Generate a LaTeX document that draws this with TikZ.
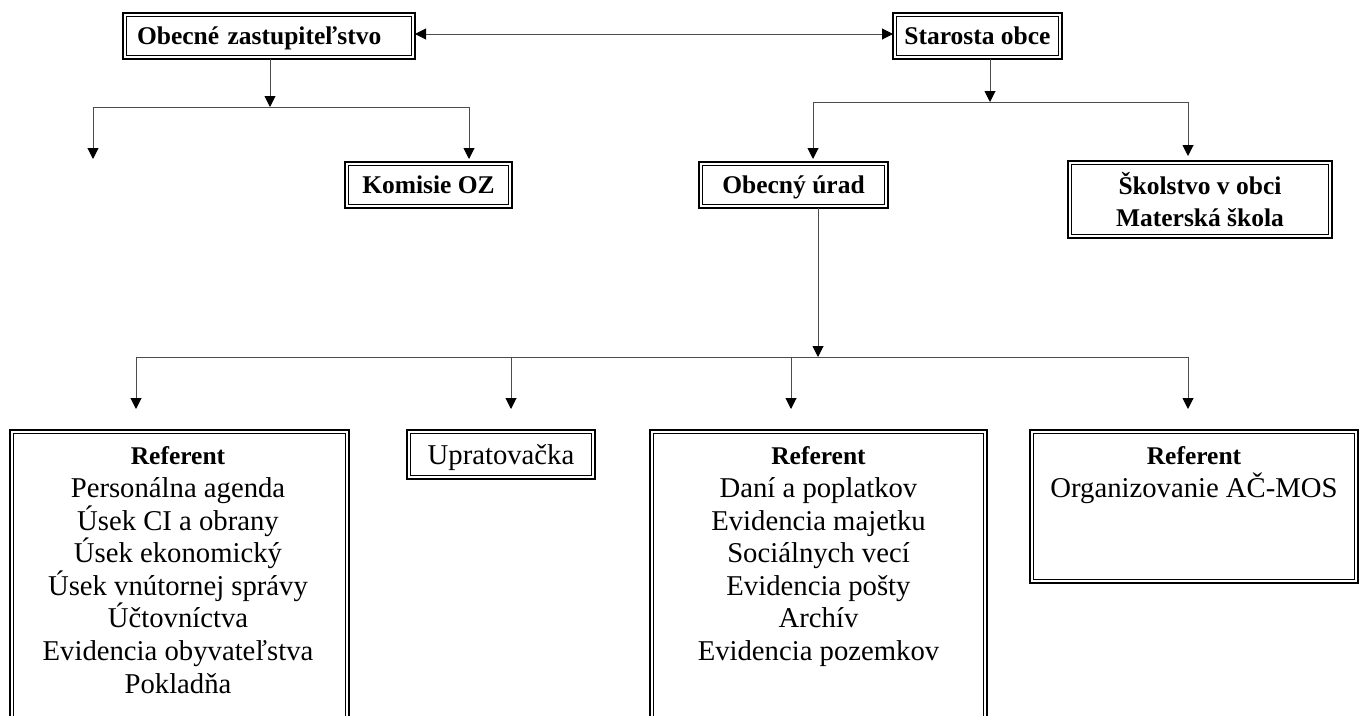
\documentclass[tikz,border=0pt]{standalone}
\usepackage{fontspec}
\setmainfont{Liberation Serif}
\usetikzlibrary{arrows.meta}
\newcommand\hdfont{\fontsize{25.5}{32.6}\selectfont\bfseries}
\begin{document}
\begin{tikzpicture}[x=1pt,y=-1pt,
  box/.style={draw, line width=2pt, inner sep=0pt, outer sep=0pt, align=center,
    font=\fontsize{25.5}{32.6}\selectfont\bfseries},
  oneline/.style={text height=17pt, text depth=0pt},
  conn/.style={line width=1pt, draw=black!70},
  arr/.style={conn, -{Triangle[width=11pt,length=11pt,color=black,fill=black]}},
  darr/.style={conn, {Triangle[width=11pt,length=11pt,color=black,fill=black]}-{Triangle[width=11pt,length=11pt,color=black,fill=black]}},
  txt/.style={inner sep=0pt, outer sep=0pt, align=center, anchor=north,
    font=\fontsize{28.7}{32.6}\selectfont},
]
\useasboundingbox (0,0) rectangle (1360,715);
% boxes
\node[box, oneline, text width=264pt, align=left, minimum width=292pt, minimum height=46pt] (oz) at (269,36) {Obecné zastupiteľstvo};
\node[box, oneline, minimum width=169pt, minimum height=46pt] (st) at (977.5,36) {Starosta obce};
\node[box, oneline, minimum width=167pt, minimum height=46pt] (kom) at (428.5,185) {Komisie OZ};
\node[box, oneline, minimum width=189pt, minimum height=46pt] (urad) at (793.5,185) {Obecný úrad};
\node[box, minimum width=264pt, minimum height=77pt] (skol) at (1200,199.5) {Školstvo v obci\\Materská škola};
\node[box, minimum width=339pt, minimum height=330pt] (ref1) at (179.5,595) {};
\node[box, text height=19pt, text depth=0pt, minimum width=188pt, minimum height=49pt, font=\fontsize{28.7}{32.6}\selectfont] (upr) at (501,454.5) {Upratovačka};
\node[box, minimum width=337pt, minimum height=330pt] (ref2) at (818.5,595) {};
\node[box, minimum width=328pt, minimum height=153pt] (ref3) at (1194,506.5) {};
\foreach \n in {oz,st,kom,urad,skol,ref1,upr,ref2,ref3}
  \draw[line width=0.8pt] ([xshift=3.5pt,yshift=-3.5pt]\n.north west) rectangle ([xshift=-3.5pt,yshift=3.5pt]\n.south east);
% box texts
\node[txt] (t1) at (178,447) {{\hdfont Referent}\\Personálna agenda\\Úsek CI a obrany\\Úsek ekonomický\\Úsek vnútornej správy\\Účtovníctva\\Evidencia obyvateľstva\\Pokladňa};
\node[txt] (t2) at (818.5,447) {{\hdfont Referent}\\Daní a poplatkov\\Evidencia majetku\\Sociálnych vecí\\Evidencia pošty\\Archív\\Evidencia pozemkov};
\node[txt] (t3) at (1194,447) {{\hdfont Referent}\\Organizovanie AČ-MOS};
% junction coordinates
\coordinate (j1) at (270,107);
\coordinate (j1l) at (93,107);
\coordinate (j1r) at (469,107);
\coordinate (e1) at (93,159);
\coordinate (j2) at (990,102);
\coordinate (j2l) at (813,102);
\coordinate (j2r) at (1188,102);
\coordinate (j3) at (818,357);
\coordinate (j3a) at (136,357);
\coordinate (j3b) at (511,357);
\coordinate (j3c) at (791,357);
\coordinate (j3d) at (1188,357);
\coordinate (ea) at (136,409);
\coordinate (eb) at (511,409);
\coordinate (ec) at (791,409);
\coordinate (ed) at (1188,409);
% connectors
\draw[darr] ([yshift=2pt]oz.east) -- ([yshift=2pt]st.west);
\draw[arr] (oz.south -| j1) -- (j1);
\draw[conn] (j1l) -- (j1r);
\draw[arr] (j1l) -- (e1);
\draw[arr] (j1r) -- ([yshift=3pt]j1r |- kom.north);
\draw[arr] (st.south -| j2) -- (j2);
\draw[conn] (j2l) -- (j2r);
\draw[arr] (j2l) -- ([yshift=3pt]j2l |- urad.north);
\draw[arr] (j2r) -- ([yshift=5pt]j2r |- skol.north);
\draw[arr] (urad.south -| j3) -- (j3);
\draw[conn] (j3a) -- (j3d);
\draw[arr] (j3a) -- (ea);
\draw[arr] (j3b) -- (eb);
\draw[arr] (j3c) -- (ec);
\draw[arr] (j3d) -- (ed);
\end{tikzpicture}
\end{document}
